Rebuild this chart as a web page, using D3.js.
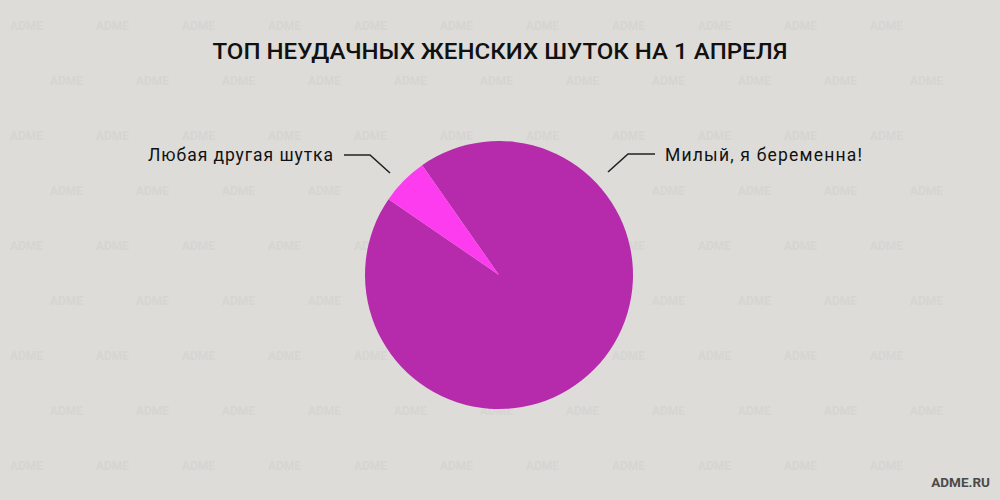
<!DOCTYPE html>
<html><head><meta charset="utf-8">
<script src="https://cdn.jsdelivr.net/npm/d3@7"></script>
<style>html,body{margin:0;padding:0;background:#dddcd9;}svg{display:block;}</style>
</head><body>
<svg id="c" width="1000" height="500"></svg>
<script>
const categories = ["Милый, я беременна!", "Любая другая шутка"];
const values = [94.3, 5.7];
const colors = ["#b62bab", "#fd3bef"];
const title = "ТОП НЕУДАЧНЫХ ЖЕНСКИХ ШУТОК НА 1 АПРЕЛЯ";
const source = "ADME.RU";

const svg = d3.select("#c");
const W = 1000, H = 500;
svg.append("rect").attr("width", W).attr("height", H).attr("fill", "#dddcd9");

// faint watermark
const wm = svg.append("g").attr("fill", "#d6d5d2").attr("font-family", "Roboto, sans-serif")
  .attr("font-weight", "bold").attr("font-size", 12);
for (let r = 0; r < 9; r++) {
  const y = 30 + r * 55;
  const off = r % 2 ? 50 : 10;
  for (let x = off; x < W - 45; x += 86) wm.append("text").attr("x", x).attr("y", y).text("ADME");
}

svg.append("text").attr("x", 500).attr("y", 59).attr("text-anchor", "middle")
  .attr("font-family", "Roboto, sans-serif").attr("font-weight", 500).attr("font-size", 22.5).attr("fill", "#111")
  .attr("textLength", 575).attr("lengthAdjust", "spacingAndGlyphs").text(title);

const cx = 499, cy = 275, R = 134;
const pie = d3.pie().sort(null).value(d => d)
  .startAngle(325 * Math.PI / 180).endAngle(685 * Math.PI / 180);
const arc = d3.arc().innerRadius(0).outerRadius(R);
const g = svg.append("g").attr("transform", `translate(${cx},${cy})`);
g.selectAll("path").data(pie(values)).join("path").attr("d", arc).attr("fill", (d, i) => colors[i]);

const lab = svg.append("g").attr("font-family", "Roboto, sans-serif").attr("font-size", 17.5).attr("fill", "#111");
// left label
lab.append("text").attr("x", 148).attr("y", 161).attr("textLength", 185).attr("lengthAdjust", "spacing").text(categories[1]);
svg.append("path").attr("d", "M344,155L370,155L390,173").attr("fill", "none").attr("stroke", "#222").attr("stroke-width", 1.6);
// right label
lab.append("text").attr("x", 665).attr("y", 161).attr("textLength", 197).attr("lengthAdjust", "spacing").text(categories[0]);
svg.append("path").attr("d", "M608,172L628,154L655,154").attr("fill", "none").attr("stroke", "#222").attr("stroke-width", 1.6);

svg.append("text").attr("x", 990).attr("y", 487).attr("text-anchor", "end")
  .attr("font-family", "Roboto, sans-serif").attr("font-weight", "bold").attr("font-size", 13.5)
  .attr("fill", "#4a4a48").text(source);
</script>
</body></html>
